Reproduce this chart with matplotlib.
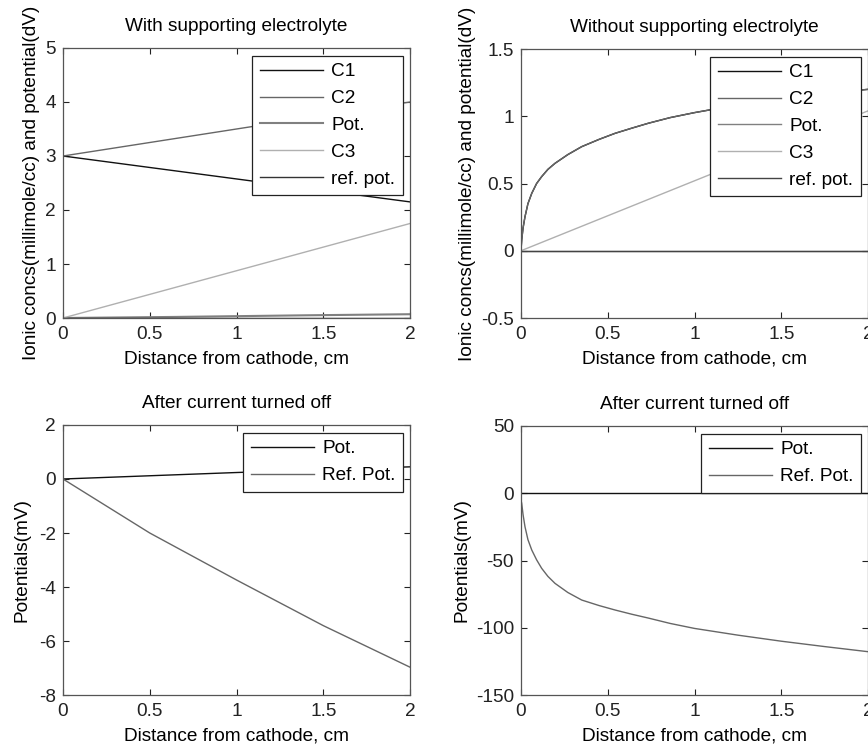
import matplotlib
matplotlib.use("Agg")
import matplotlib.pyplot as plt

plt.rcParams['font.family'] = ['Liberation Sans', 'DejaVu Sans']
plt.rcParams['axes.unicode_minus'] = False
FS = 13.7

# ---------------- data ----------------
# Top-left: with supporting electrolyte
x_lin = [0.0, 2.0]
tl_c1 = [3.0, 2.15]
tl_c2 = [3.0, 4.0]
tl_pot_x = [0.0, 0.65, 1.4, 2.0]
tl_pot = [0.0, 0.02, 0.05, 0.07]
tl_c3 = [0.0, 1.75]
tl_ref = [0.0, 0.0]

# Top-right: without supporting electrolyte
tr_x = [0.0, 0.004, 0.012, 0.023, 0.04, 0.062, 0.09, 0.119, 0.155, 0.196, 0.27, 0.35,
        0.45, 0.542, 0.64, 0.734, 0.86, 1.0, 1.1, 1.3, 1.5, 1.75, 2.0]
tr_c = [0.0, 0.08, 0.17, 0.253, 0.35, 0.427, 0.5, 0.551, 0.605, 0.65, 0.715, 0.774,
        0.828, 0.873, 0.912, 0.948, 0.99, 1.027, 1.05, 1.09, 1.13, 1.17, 1.2]
tr_c3 = [0.0, 1.04]
tr_ref = [0.0, 0.0]

# Bottom-left: after current turned off (with supporting electrolyte)
bl_x = [0.0, 0.5, 1.0, 1.5, 2.0]
bl_pot = [0.0, 0.12, 0.24, 0.35, 0.45]
bl_ref = [0.0, -2.0, -3.74, -5.43, -6.97]

# Bottom-right: after current turned off (without supporting electrolyte)
br_x = [0.0, 0.004, 0.012, 0.023, 0.04, 0.062, 0.09, 0.119, 0.155, 0.196, 0.27, 0.35,
        0.45, 0.542, 0.64, 0.734, 0.86, 1.0, 1.25, 1.5, 1.75, 2.0]
br_ref = [-5.0, -7.5, -16.0, -24.9, -34.5, -42.2, -49.5, -55.8, -61.8, -67.0, -73.8, -79.4,
          -83.5, -86.8, -90.0, -92.8, -96.8, -100.5, -105.5, -110.0, -114.0, -117.8]
br_pot = [0.0, 0.0]

legend5 = ['C1', 'C2', 'Pot.', 'C3', 'ref. pot.']
legend2 = ['Pot.', 'Ref. Pot.']
xlabel = 'Distance from cathode, cm'
ylabel_top = 'Ionic concs(millimole/cc) and potential(dV)'
ylabel_bot = 'Potentials(mV)'

# ---------------- figure ----------------
fig = plt.figure(figsize=(8.68, 7.44), dpi=100)
W, H = 868.0, 744.0

def mk_ax(l, t, r, b):
    return fig.add_axes([l / W, 1 - b / H, (r - l) / W, (b - t) / H])

ax1 = mk_ax(63, 48, 410, 318)
ax2 = mk_ax(521, 49, 868, 318)
ax3 = mk_ax(63, 425, 410, 695)
ax4 = mk_ax(521, 426, 868, 695)

K = '#111111'
G = '#666666'
LG = '#b0b0b0'
lw = 1.0

ax1.plot(x_lin, tl_c1, color=K, lw=lw, label=legend5[0])
ax1.plot(x_lin, tl_c2, color=G, lw=lw, label=legend5[1])
ax1.plot(tl_pot_x, tl_pot, color='#808080', lw=1.5, label=legend5[2])
ax1.plot(x_lin, tl_c3, color=LG, lw=lw, label=legend5[3])
ax1.plot(x_lin, tl_ref, color='#333333', lw=lw, label=legend5[4])
ax1.set_ylim(0, 5)
ax1.set_yticks([0, 1, 2, 3, 4, 5])
ax1.set_title('With supporting electrolyte', fontsize=FS, pad=12)
ax1.set_ylabel(ylabel_top, fontsize=FS, labelpad=4)

ax2.plot(tr_x, tr_c, color=K, lw=lw, label=legend5[0])
ax2.plot(tr_x, tr_c, color=G, lw=lw, label=legend5[1])
ax2.plot(x_lin, tr_ref, color='#808080', lw=lw, label=legend5[2])
ax2.plot(x_lin, tr_c3, color=LG, lw=lw, label=legend5[3])
ax2.plot(x_lin, tr_ref, color='#444444', lw=lw, label=legend5[4])
ax2.set_ylim(-0.5, 1.5)
ax2.set_yticks([-0.5, 0, 0.5, 1, 1.5])
ax2.set_yticklabels(['-0.5', '0', '0.5', '1', '1.5'])
ax2.set_title('Without supporting electrolyte', fontsize=FS, pad=12)
ax2.set_ylabel(ylabel_top, fontsize=FS, labelpad=4)

ax3.plot(bl_x, bl_pot, color=K, lw=lw, label=legend2[0])
ax3.plot(bl_x, bl_ref, color=G, lw=lw, label=legend2[1])
ax3.set_ylim(-8, 2)
ax3.set_yticks([-8, -6, -4, -2, 0, 2])
ax3.set_title('After current turned off', fontsize=FS, pad=12)
ax3.set_ylabel(ylabel_bot, fontsize=FS, labelpad=6)

ax4.plot(x_lin, br_pot, color=K, lw=lw, label=legend2[0])
ax4.plot(br_x, br_ref, color=G, lw=lw, label=legend2[1])
ax4.set_ylim(-150, 50)
ax4.set_yticks([-150, -100, -50, 0, 50])
ax4.set_title('After current turned off', fontsize=FS, pad=12)
ax4.set_ylabel(ylabel_bot, fontsize=FS, labelpad=4)

for ax in (ax1, ax2, ax3, ax4):
    ax.set_xlim(0, 2)
    ax.set_xticks([0, 0.5, 1, 1.5, 2])
    ax.set_xticklabels(['0', '0.5', '1', '1.5', '2'])
    ax.set_xlabel(xlabel, fontsize=FS, labelpad=5)
    ax.tick_params(direction='in', top=True, right=True, length=4, width=0.8,
                   labelsize=FS, colors='#222222')
    ax.tick_params(axis='x', pad=6)
    ax.tick_params(axis='y', pad=5)
    for s in ax.spines.values():
        s.set_color('#555555')
        s.set_linewidth(0.9)
    leg = ax.legend(loc='upper right', bbox_to_anchor=(0.98, 0.972), fontsize=FS,
                    frameon=True, fancybox=False, framealpha=1, edgecolor='#222222',
                    handlelength=3.3, handletextpad=0.45, labelspacing=0.5,
                    borderpad=0.4, borderaxespad=0.0)
    leg.get_frame().set_linewidth(0.9)

fig.savefig('out.png', dpi=100)
